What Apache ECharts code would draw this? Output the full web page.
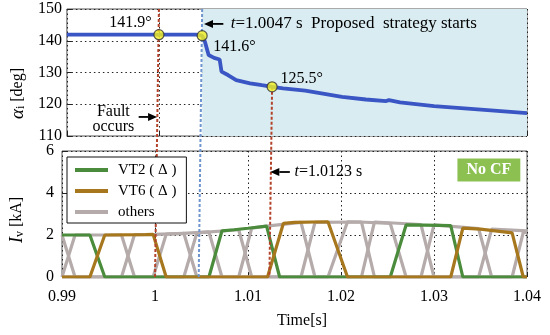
<!DOCTYPE html>
<html><head><meta charset="utf-8">
<script src="https://cdn.jsdelivr.net/npm/echarts/dist/echarts.min.js"></script>
<style>html,body{margin:0;padding:0;background:#fff}#c{width:550px;height:335px}</style>
</head><body><div id="c"></div>
<script>
// ---------- data ----------
const xTickLabels = ['0.99', '1', '1.01', '1.02', '1.03', '1.04'];
const alphaTickLabels = ['110', '120', '130', '140', '150'];
const currentTickLabels = ['0', '2', '4', '6'];

// firing angle alpha_i [deg] vs time [s]
const alphaLine = [
  [0.99, 141.9], [1.0, 141.9], [1.004, 141.9], [1.0047, 141.6], [1.0050, 139.7],
  [1.0054, 135.5], [1.0060, 134.6], [1.0066, 134.1], [1.0068, 130.3], [1.0075, 129.2],
  [1.0084, 127.6], [1.0099, 126.6], [1.0112, 126.0], [1.0123, 125.5], [1.0135, 125.0],
  [1.0159, 124.3], [1.0199, 122.3], [1.0225, 121.5], [1.0247, 121.0], [1.0250, 121.3],
  [1.0262, 120.6], [1.0299, 119.4], [1.035, 118.3], [1.04, 117.2]
];
const keyPoints = [[1.0, 141.9], [1.0047, 141.6], [1.0123, 125.5]];
const keyLabels = ['141.9°', '141.6°', '125.5°'];

// valve currents I_v [kA]
const vt2 = [
  [0.99, 2.0], [0.993, 2.0], [0.9946, 0], [1.0058, 0], [1.0072, 2.2], [1.0085, 2.25],
  [1.010, 2.32], [1.012, 2.42], [1.0134, 0], [1.0253, 0], [1.027, 2.48], [1.029, 2.47],
  [1.0318, 2.45], [1.0331, 0], [1.04, 0]
];
const vt6 = [
  [0.99, 0], [0.993, 0], [0.9946, 2.0], [0.999, 2.02], [0.9998, 2.03], [1.0012, 0],
  [1.0121, 0], [1.0138, 2.55], [1.015, 2.6], [1.0186, 2.63], [1.0207, 0], [1.0318, 0],
  [1.0331, 2.33], [1.035, 2.28], [1.0384, 2.1], [1.0396, 0], [1.04, 0]
];
const othersVT4 = [
  [0.99, 0], [0.9998, 0], [1.0012, 2.04], [1.003, 2.08], [1.0058, 2.15], [1.0072, 0],
  [1.0186, 0], [1.0207, 2.63], [1.022, 2.62], [1.0253, 2.55], [1.027, 0], [1.0384, 0],
  [1.0396, 2.12], [1.04, 2.12]
];
const othersUa = [
  [0.99, 0], [0.9914, 2.0], [0.9964, 2.0], [0.9978, 0], [1.009, 0], [1.0104, 2.33],
  [1.012, 2.42], [1.0157, 2.6], [1.0172, 0], [1.0286, 0], [1.030, 2.48], [1.0348, 2.3],
  [1.0362, 0], [1.04, 0]
];
const othersUb = [
  [0.99, 0], [0.9964, 0], [0.9978, 2.02], [1.0, 2.03], [1.0031, 2.08], [1.0045, 0],
  [1.0157, 0], [1.0172, 2.6], [1.0222, 2.62], [1.0236, 0], [1.0348, 0], [1.0362, 2.28],
  [1.04, 2.2]
];
const othersUc = [
  [0.99, 2.0], [0.9914, 0], [1.0031, 0], [1.0045, 2.1], [1.009, 2.25], [1.0104, 0],
  [1.0222, 0], [1.0236, 2.62], [1.0286, 2.5], [1.030, 0], [1.04, 0]
];
const legendNames = ['VT2 ( Δ )', 'VT6 ( Δ )', 'others'];

const faultTime = 1.0, strategyTime = 1.0047, markTime = 1.0123;

// ---------- chart ----------
const FONT = '"Liberation Serif","Times New Roman",serif';
const chart = echarts.init(document.getElementById('c'), null, {renderer: 'canvas'});

function xAxisCfg(gi, showLabels) {
  return {
    type: 'value', gridIndex: gi, min: 0.99, max: 1.04, interval: 0.01,
    axisLine: {show: false},
    axisTick: {show: true, inside: true, length: 5, lineStyle: {color: '#222'}},
    splitLine: {show: true, lineStyle: {color: '#222', type: [1.5, 3], width: 1}},
    axisLabel: {show: showLabels, margin: 12, fontFamily: FONT, fontSize: 16, color: '#000',
      formatter: (v, i) => xTickLabels[i]},
    name: showLabels ? 'Time[s]' : '', nameLocation: 'middle', nameGap: 36,
    nameTextStyle: {fontFamily: FONT, fontSize: 16, color: '#000', padding: [0, 0, 0, 15]}
  };
}

const GRAY = '#b5abab';
function graySeries(d) {
  return {type: 'line', name: 'others', xAxisIndex: 1, yAxisIndex: 1, data: d,
    showSymbol: false, symbol: 'none', color: GRAY, lineStyle: {color: GRAY, width: 3.2}, z: 2};
}

const option = {
  animation: false,
  backgroundColor: '#fff',
  grid: [
    {left: 62, right: 23, top: 9, height: 127, show: true, borderColor: '#555', borderWidth: 1},
    {left: 62, right: 23, top: 151, height: 126, show: true, borderColor: '#555', borderWidth: 1}
  ],
  xAxis: [xAxisCfg(0, false), xAxisCfg(1, true)],
  yAxis: [
    {type: 'value', gridIndex: 0, min: 110, max: 150, interval: 10,
      axisLine: {show: false},
      axisTick: {show: true, inside: true, length: 5, lineStyle: {color: '#222'}},
      splitLine: {show: true, lineStyle: {color: '#222', type: [1.5, 3], width: 1}},
      axisLabel: {margin: 5, fontFamily: FONT, fontSize: 16, color: '#000',
        formatter: (v, i) => alphaTickLabels[i]},
      name: '{a|α}{s|i} [deg]', nameLocation: 'middle', nameRotate: 90, nameGap: 36,
      nameTextStyle: {fontFamily: FONT, fontSize: 16, color: '#000', padding: [0, 42, 0, 0],
        rich: {a: {fontFamily: FONT, fontSize: 19, fontStyle: 'italic', color: '#000'},
               s: {fontFamily: FONT, fontSize: 12, color: '#000', verticalAlign: 'bottom', lineHeight: 10}}}
    },
    {type: 'value', gridIndex: 1, min: 0, max: 6, interval: 2,
      axisLine: {show: false},
      axisTick: {show: true, inside: true, length: 5, lineStyle: {color: '#222'}},
      splitLine: {show: true, lineStyle: {color: '#222', type: [1.5, 3], width: 1}},
      axisLabel: {margin: 8, fontFamily: FONT, fontSize: 16, color: '#000',
        formatter: (v, i) => currentTickLabels[i]},
      name: '{a|I}{s|v} [kA]', nameLocation: 'middle', nameRotate: 90, nameGap: 36,
      nameTextStyle: {fontFamily: FONT, fontSize: 16, color: '#000', padding: [0, 12, 0, 0],
        rich: {a: {fontFamily: FONT, fontSize: 18, fontStyle: 'italic', color: '#000'},
               s: {fontFamily: FONT, fontSize: 12, color: '#000', verticalAlign: 'bottom', lineHeight: 10}}}
    }
  ],
  legend: {
    orient: 'vertical', left: 67, top: 157, z: 8,
    backgroundColor: '#fff', borderColor: '#111', borderWidth: 1,
    padding: [5, 10, 3, 8], itemWidth: 33, itemHeight: 4, itemGap: 5, icon: 'rect',
    selectedMode: false,
    textStyle: {fontFamily: FONT, fontSize: 15, color: '#000', lineHeight: 16, padding: [0, 0, 0, 5]}
  },
  series: [
    // shaded region after the strategy starts
    {type: 'line', xAxisIndex: 0, yAxisIndex: 0, data: [], z: -1, silent: true,
      markArea: {silent: true, itemStyle: {color: '#d9ecf1'},
        data: [[{xAxis: strategyTime}, {xAxis: 1.04}]]}},
    {type: 'line', name: 'alpha', xAxisIndex: 0, yAxisIndex: 0, data: alphaLine,
      showSymbol: false, symbol: 'none', color: '#3a55c4', lineStyle: {color: '#3a55c4', width: 3.8}, z: 3},
    {type: 'scatter', xAxisIndex: 0, yAxisIndex: 0, data: keyPoints, symbolSize: 10, z: 6,
      itemStyle: {color: '#f3f01e', borderColor: '#333', borderWidth: 1.2}},
    graySeries(othersVT4), graySeries(othersUa), graySeries(othersUb), graySeries(othersUc),
    {type: 'line', name: legendNames[0], xAxisIndex: 1, yAxisIndex: 1, data: vt2, showSymbol: false,
      symbol: 'none', color: '#4b8c3c', lineStyle: {color: '#4b8c3c', width: 3.2}, z: 2},
    {type: 'line', name: legendNames[1], xAxisIndex: 1, yAxisIndex: 1, data: vt6, showSymbol: false,
      symbol: 'none', color: '#a7771d', lineStyle: {color: '#a7771d', width: 3.2}, z: 2}
  ]
};
option.legend.data = legendNames;
chart.setOption(option);

// ---------- annotations positioned through the axes ----------
function px(gi, pt) { return chart.convertToPixel({gridIndex: gi}, pt); }
function vline(p0, p1, color) {
  return {type: 'line', z: 3, silent: true,
    shape: {x1: p0[0], y1: p0[1], x2: p1[0], y2: p1[1]},
    style: {stroke: color, lineWidth: 2, lineDash: [3, 2]}};
}
function arrow(gi, from, to) {
  const a = px(gi, from), b = px(gi, to);
  const dx = b[0] - a[0], dy = b[1] - a[1], L = Math.hypot(dx, dy);
  const ux = dx / L, uy = dy / L, hl = 9, hw = 4;
  const bx = b[0] - ux * hl, by = b[1] - uy * hl;
  return [
    {type: 'line', z: 9, silent: true, shape: {x1: a[0], y1: a[1], x2: bx, y2: by},
      style: {stroke: '#000', lineWidth: 1.8}},
    {type: 'polygon', z: 9, silent: true,
      shape: {points: [[b[0], b[1]], [bx - uy * hw, by + ux * hw], [bx + uy * hw, by - ux * hw]]},
      style: {fill: '#000'}}
  ];
}
function txt(p, text, align, extra) {
  return {type: 'text', z: 10, silent: true, x: p[0], y: p[1],
    style: Object.assign({text: text, fontFamily: FONT, fontSize: 16, fill: '#000',
      align: align, verticalAlign: 'middle'}, extra || {})};
}
const RED = '#b4432b', BLUE = '#6f95cf';
function italicRich(fs) {
  return {i: {fontFamily: FONT, fontSize: fs, fontStyle: 'italic', fill: '#000'},
          n: {fontFamily: FONT, fontSize: fs, fill: '#000'}};
}
const graphics = [
  vline(px(0, [faultTime, 150]), px(1, [faultTime, 0]), RED),
  vline(px(0, [strategyTime, 150]), px(1, [strategyTime, 0]), BLUE),
  vline(px(0, [markTime, 125.5]), px(1, [markTime, 0]), RED),
  ...arrow(0, [1.0070, 145.3], [1.0049, 145.3]),
  ...arrow(0, [0.9978, 116.0], [0.9998, 116.0]),
  ...arrow(1, [1.0145, 5.0], [1.0124, 5.0]),
  txt(px(0, [0.9992, 145.6]), keyLabels[0], 'right'),
  txt(px(0, [1.0059, 138.2]), keyLabels[1], 'left'),
  txt(px(0, [1.0132, 128.0]), keyLabels[2], 'left'),
  txt(px(0, [1.0078, 145.3]), '{i|t}{n|=1.0047 s  Proposed  strategy starts}', 'left', {rich: italicRich(17)}),
  txt(px(0, [0.99505, 115.2]), 'Fault\noccurs', 'center', {lineHeight: 15}),
  txt(px(1, [1.0150, 5.0]), '{i|t}{n|=1.0123 s}', 'left', {rich: italicRich(16)}),
  txt(px(1, [1.0359, 5.1]), 'No CF', 'center',
    {fill: '#fff', fontWeight: 'bold', backgroundColor: '#8cc152', padding: [4, 9, 3, 9]})
];
chart.setOption({graphic: {elements: graphics}});
</script>
</body></html>
